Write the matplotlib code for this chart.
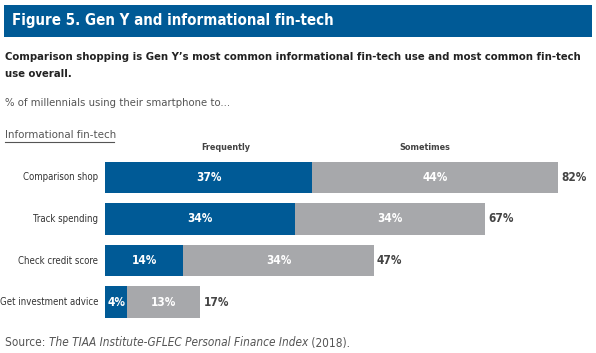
import matplotlib
matplotlib.use("Agg")
import matplotlib.pyplot as plt
from matplotlib.patches import Rectangle
from matplotlib.lines import Line2D

categories = ["Comparison shop", "Track spending", "Check credit score", "Get investment advice"]
frequently = [37, 34, 14, 4]
sometimes = [44, 34, 34, 13]
totals = ["82%", "67%", "47%", "17%"]
series_names = ["Frequently", "Sometimes"]

BLUE = "#005A96"
GRAY = "#A7A8AB"
DARK = "#222222"
MID = "#555555"
plt.rcParams["font.family"] = ["DejaVu Sans"]
plt.rcParams["font.stretch"] = "condensed"

W, H = 596, 353
fig = plt.figure(figsize=(W / 100, H / 100), dpi=100)

def fx(px):
    return px / W

def fy(py):
    return 1 - py / H

# Title banner
fig.patches.append(Rectangle((fx(4), fy(37)), fx(588), 32 / H, transform=fig.transFigure,
                             facecolor=BLUE, edgecolor="none"))
fig.text(fx(12), fy(21), "Figure 5. Gen Y and informational fin-tech", color="white",
         fontsize=10.8, fontweight="bold", va="center", ha="left")
fig.text(fx(5), fy(57), "Comparison shopping is Gen Y\u2019s most common informational fin-tech use and most common fin-tech",
         color=DARK, fontsize=8.1, fontweight="bold", va="center", ha="left")
fig.text(fx(5), fy(74), "use overall.", color=DARK, fontsize=8.1, fontweight="bold", va="center", ha="left")
fig.text(fx(5), fy(103), "% of millennials using their smartphone to...", color=MID, fontsize=8.1,
         va="center", ha="left")
fig.text(fx(5), fy(135), "Informational fin-tech", color=MID, fontsize=8.2,
         va="center", ha="left")
fig.lines.append(Line2D([fx(5), fx(114)], [fy(142), fy(142)], transform=fig.transFigure,
                        color=MID, linewidth=0.8))

# Axes: x=0 at px 105, 1% = 5.595 px
scale = 5.595
ax_left, ax_right = 105, 590
top, bottom = 156.75, 322.75
ax = fig.add_axes([fx(ax_left), fy(bottom), fx(ax_right - ax_left), (bottom - top) / H])
ax.set_xlim(0, (ax_right - ax_left) / scale)
ax.set_ylim(len(categories) - 0.5, -0.5)
ax.axis("off")

y = list(range(len(categories)))
h = 0.77
ax.barh(y, frequently, height=h, color=BLUE, linewidth=0)
ax.barh(y, sometimes, left=frequently, height=h, color=GRAY, linewidth=0)

for i, cat in enumerate(categories):
    f, s = frequently[i], sometimes[i]
    ax.text(-1.2, i, cat, ha="right", va="center", fontsize=6.9, color="#333333")
    ax.text(f / 2, i, f"{f}%", ha="center", va="center", fontsize=8.5, fontweight="bold", color="white")
    ax.text(f + s / 2, i, f"{s}%", ha="center", va="center", fontsize=8.5, fontweight="bold", color="white")
    ax.text(f + s + 0.6, i, totals[i], ha="left", va="center", fontsize=8.5, fontweight="bold", color="#444444")

# Series headers
ax.text(21.5, -0.72, series_names[0], ha="center", va="center", fontsize=6.5, fontweight="bold", color="#444444")
ax.text(57.2, -0.72, series_names[1], ha="center", va="center", fontsize=6.5, fontweight="bold", color="#444444")

# Source
src = [("Source: ", "normal"), ("The TIAA Institute-GFLEC Personal Finance Index", "italic"), (" (2018).", "normal")]
renderer = fig.canvas.get_renderer()
xpos = fx(5)
for s_txt, style in src:
    tt = fig.text(xpos, fy(343), s_txt, color=MID, fontsize=8.5, style=style, va="center", ha="left")
    bb = tt.get_window_extent(renderer=renderer)
    xpos += bb.width / W

fig.savefig("out.png", dpi=100)
